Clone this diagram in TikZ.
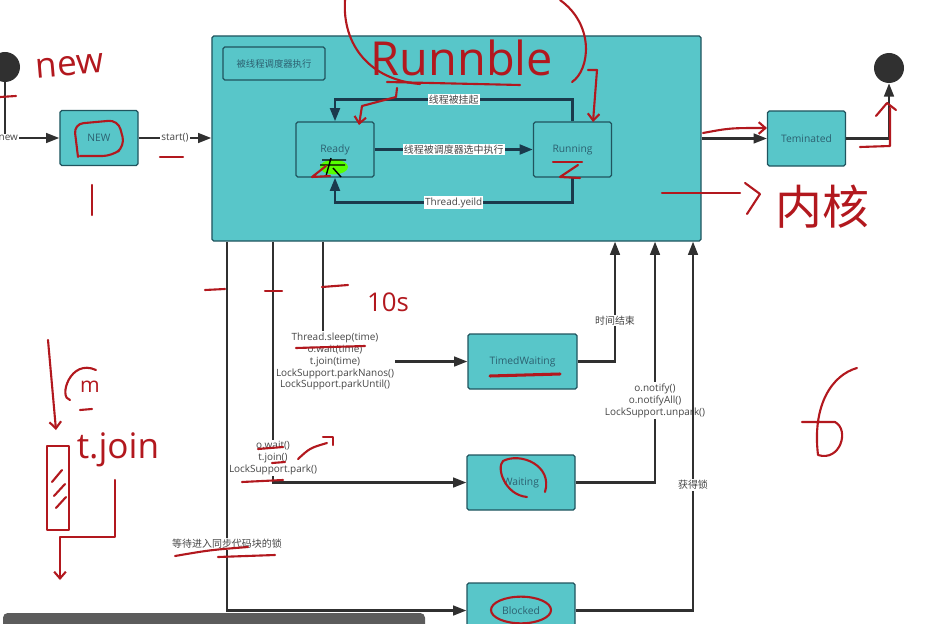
\documentclass[tikz,border=0pt]{standalone}
\usepackage{fontspec}
\setmainfont{Open Sans}
\newfontfamily\cjk{Noto Sans CJK SC}
\usepackage{tikz}
\usetikzlibrary{shapes,arrows.meta,backgrounds}

\definecolor{boxfill}{RGB}{88,198,201}
\definecolor{boxline}{RGB}{32,84,94}
\definecolor{boxtext}{RGB}{44,96,112}
\definecolor{flowgray}{RGB}{48,48,48}
\definecolor{loopblue}{RGB}{26,58,76}
\definecolor{labelgray}{RGB}{70,70,70}
\definecolor{inkred}{RGB}{178,24,30}
\definecolor{bargray}{RGB}{92,92,92}

\tikzset{
  state/.style={draw=boxline, fill=boxfill, line width=1pt, rounded corners=1.5pt,
    minimum width=2.34cm, minimum height=1.65cm, inner sep=0pt, text=boxtext,
    font=\fontsize{8.8}{10}\selectfont},
  endpoint/.style={circle, fill=flowgray, minimum size=0.9cm, inner sep=0pt},
  flow/.style={draw=flowgray, line width=2.1pt, -{Triangle[length=4mm,width=2.9mm]}},
  inflow/.style={flow, draw=loopblue, line width=2.5pt},
  lbl/.style={fill=white, inner sep=1pt, text=labelgray, align=center,
    font=\fontsize{8.5}{10.2}\selectfont},
  ink/.style={draw=inkred, line width=1.8pt, line cap=round, line join=round},
  inkarrow/.style={ink, -{Straight Barb[length=2mm,width=3.5mm]}},
  inktext/.style={text=inkred, inner sep=0pt},
}

\begin{document}
\begin{tikzpicture}[x=0.03cm, y=-0.03cm]
\useasboundingbox (0,0) rectangle (934,624);
\clip (0,0) rectangle (934,624);

% states
\node[endpoint] (start) at (5,67) {};
\node[endpoint] (stop) at (889,68) {};
\node[state] (new) at (99,138) {NEW};
\node[state, minimum width=14.67cm, minimum height=6.15cm] (run) at (456.5,138.5) {};
\node[state, minimum width=3.06cm, minimum height=0.99cm, font=\cjk\fontsize{8}{10}\selectfont] (sched) at (274,63.5) {被线程调度器执行};
\node[state] (ready) at (335,149.5) {Ready};
\node[state] (running) at (572.5,149.5) {Running};
\node[state] (term) at (806.5,138.5) {Teminated};
\node[state, minimum width=3.27cm] (timed) at (522.5,361.5) {TimedWaiting};
\node[state, minimum width=3.24cm] (wait) at (521,482.5) {Waiting};
\node[state, minimum width=3.24cm] (block) at (521,610.5) {Blocked};

\coordinate (lockx) at (227,0);
\coordinate (waitx) at (273,0);
\coordinate (sleepx) at (323,0);
\coordinate (timeupx) at (615,0);
\coordinate (notifyx) at (655,0);
\coordinate (gotx) at (693,0);

% transitions
\draw[flow] (start) |- (new) node[lbl, pos=0.5, xshift=0.1cm] {new};
\draw[flow] (new.east) -- (new.east -| run.west) node[lbl, midway] {start()};
\draw[flow] (run.east |- term) -- (term.west);
\draw[flow] (term) -| (stop);

\draw[inflow] (ready) -- (running) node[lbl, midway] {\cjk 线程被调度器选中执行};
\draw[inflow] (running.north) -- ++(0,-22) -| (ready.north) node[lbl, pos=0.25] {\cjk 线程被挂起};
\draw[inflow] (running.south) -- ++(0,25) -| (ready.south) node[lbl, pos=0.25] {Thread.yeild};

\draw[flow] (run.south -| sleepx) |- (timed) node[lbl, pos=0.5, xshift=0.36cm]
  {Thread.sleep(time)\\o.wait(time)\\t.join(time)\\LockSupport.parkNanos()\\LockSupport.parkUntil()};
\draw[flow] (run.south -| waitx) |- (wait) node[lbl, pos=0.5, yshift=0.74cm]
  {o.wait()\\t.join()\\LockSupport.park()};
\draw[flow] (run.south -| lockx) |- (block) node[lbl, pos=0.41] {\cjk 等待进入同步代码块的锁};
\draw[flow] (timed) -| (run.south -| timeupx) node[lbl, pos=0.67] {\cjk 时间结束};
\draw[flow] (wait) -| (run.south -| notifyx) node[lbl, pos=0.67]
  {o.notify()\\o.notifyAll()\\LockSupport.unpark()};
\draw[flow] (block) -| (run.south -| gotx) node[lbl, pos=0.67] {\cjk 获得锁};

% red notes
\node[inktext, font=\fontsize{30}{30}\selectfont, rotate=5] (newnote) at (70,66) {new};
\draw[ink] (0,97) -- (16,96);
\draw[ink, rounded corners=8pt] (78,157) -- (74,124) -- (118,120) -- (125,146) -- (112,156) -- (80,156);
\draw[ink] (92,185) -- (92,215);
\draw[ink] (160,157) -- (183,157);

\node[inktext, font=\fontsize{40}{40}\selectfont] (runnote) at (462,58) {Runnble};
\draw[ink] (345,0) .. controls (342,45) and (370,80) .. (420,84);
\draw[ink] (387,82) -- (520,85);
\draw[ink] (560,0) .. controls (595,25) and (590,70) .. (572,82);
\draw[inkarrow] (397,88) -- (396,97) -- (362,106) -- (359,125);
\draw[inkarrow] (588,70) -- (597,70) -- (593,122);

\fill[green!55!lime] (334,167) ellipse (0.42cm and 0.22cm);
\draw[black, line width=1.2pt] (322,160) -- (346,160) (320,165) -- (345,165)
  (331,158) -- (326,176) (333,168) -- (341,177);
\draw[ink] (330,176) -- (312,177) -- (326,166);
\draw[ink] (553,162) -- (582,162);
\draw[ink] (578,165) -- (560,177) -- (580,178);

\draw[inkarrow] (703,133) .. controls (730,128) .. (767,128);
\draw[ink] (860,147) -- (890,146) -- (890,108);
\draw[ink] (876,116) -- (887,103) -- (896,110);
\draw[ink] (662,193) -- (740,193);
\draw[ink] (745,183) -- (760,194) -- (747,214);
\node[inktext, font=\cjk\fontsize{40}{40}\selectfont] (kernel) at (822,207) {内核};

\draw[ink] (205,290) -- (225,289);
\draw[ink] (265,291) -- (282,291);
\draw[ink] (322,287) -- (348,285);
\node[inktext, font=\fontsize{22}{22}\selectfont] (tennote) at (388,302) {10s};
\draw[ink] (296,348) -- (365,346);
\draw[ink, line width=2.6pt] (490,376) -- (560,374);

\draw[ink] (258,449) -- (283,447);
\draw[ink] (272,463) -- (285,462);
\draw[ink] (242,482) -- (283,480);
\draw[ink] (298,459) .. controls (310,448) .. (327,443);
\draw[ink] (323,437) -- (333,437) -- (333,445);
\draw[ink] (527,497) .. controls (505,495) and (496,468) .. (503,461)
  .. controls (520,452) and (553,465) .. (545,492);
\draw[ink] (521,610) ellipse (0.9cm and 0.4cm);
\draw[ink] (175,556) .. controls (210,550) .. (248,547);
\draw[ink] (218,557) -- (275,555);

\draw[inkarrow] (48,340) -- (56,430);
\draw[ink] (96,370) .. controls (70,358) and (58,398) .. (70,400);
\draw[ink] (80,410) -- (92,409);
\node[inktext, font=\fontsize{18}{18}\selectfont] (mnote) at (90,387) {m};
\node[inktext, font=\fontsize{30}{30}\selectfont] (joinnote) at (118,450) {t.join};
\draw[ink] (47,446) rectangle (69,530);
\draw[ink] (52,482) -- (62,470) (54,496) -- (65,484) (56,508) -- (66,497);
\draw[inkarrow] (115,480) -- (115,537) -- (60,537) -- (60,580);

\draw[ink] (857,368) .. controls (832,375) and (812,405) .. (818,455)
  .. controls (840,462) and (850,430) .. (835,422) -- (802,422);

% player bar
\fill[bargray, rounded corners=4pt] (3,613) rectangle (425,640);
\end{tikzpicture}
\end{document}
